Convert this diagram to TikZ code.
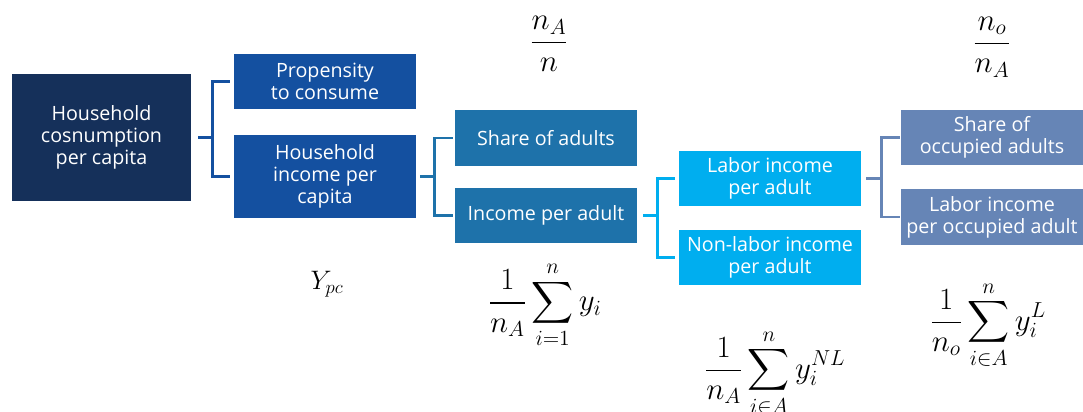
\RequirePackage{fix-cm}
\documentclass[tikz,border=0pt]{standalone}
\usepackage[no-math]{fontspec}
\setmainfont{Open Sans}
\usepackage{amsmath}
\usetikzlibrary{positioning, calc}

\definecolor{navyC}{HTML}{15305A}
\definecolor{blueC}{HTML}{1450A0}
\definecolor{tealC}{HTML}{1E72AA}
\definecolor{cyanC}{HTML}{00AEEF}
\definecolor{greyC}{HTML}{6685B6}

\begin{document}
\begin{tikzpicture}[
    x=0.025cm, y=-0.025cm,
    box/.style={rectangle, text=white, align=center, inner sep=2pt,
        minimum width=4.55cm, minimum height=1.375cm,
        font=\fontsize{14}{15.5}\selectfont},
    rootBox/.style={box, fill=navyC, minimum width=4.475cm, minimum height=3.175cm},
    boxA/.style={box, fill=blueC},
    boxB/.style={box, fill=tealC},
    boxC/.style={box, fill=cyanC},
    boxD/.style={box, fill=greyC},
    link/.style={line width=1.8pt},
    eqn/.style={inner sep=0pt, font=\fontsize{22}{26}\selectfont},
    eqnS/.style={inner sep=0pt, font=\fontsize{19}{22}\selectfont}
]
\useasboundingbox (0,0) rectangle (1083,412);

% tree of boxes
\node[rootBox] (hc) at (101.5,137.5) {Household\\cosnumption\\per capita};
\node[boxA] (pc) at (325,81.5) {Propensity\\to consume};
\node[boxA, minimum height=2.075cm] (hi) at (325,176.5) {Household\\income per\\capita};
\node[boxB] (sa) at (546,138) {Share of adults};
\node[boxB] (ia) at (546,215.5) {Income per adult};
\node[boxC] (li) at (770,178.5) {Labor income\\per adult};
\node[boxC] (nl) at (770,257.5) {Non-labor income\\per adult};
\node[boxD] (so) at (992,137.5) {Share of\\occupied adults};
\node[boxD] (lo) at (992,217) {Labor income\\per occupied adult};

% brackets
\coordinate (j1) at ([xshift=0.525cm]hc.east);
\draw[link, draw=blueC] ([xshift=0.175cm]hc.east) -- (j1);
\draw[link, draw=blueC] ([xshift=-0.1cm]pc.west) -| (j1) |- ([xshift=-0.1cm]hi.west);

\coordinate (j2) at ([xshift=0.45cm]hi.east);
\draw[link, draw=tealC] ([xshift=0.1cm]hi.east) -- (j2);
\draw[link, draw=tealC] ([xshift=-0.05cm]sa.west) -| (j2) |- ([xshift=-0.05cm]ia.west);

\coordinate (j3) at ([xshift=0.5cm]ia.east);
\draw[link, draw=cyanC] ([xshift=0.15cm]ia.east) -- (j3);
\draw[link, draw=cyanC] ([xshift=-0.1cm]li.west) -| (j3) |- ([xshift=-0.1cm]nl.west);

\coordinate (j4) at ([xshift=0.5cm]li.east);
\draw[link, draw=greyC] ([xshift=0.125cm]li.east) -- (j4);
\draw[link, draw=greyC] ([xshift=-0.03cm]so.west) -| (j4) |- ([xshift=-0.03cm]lo.west);

% formulas
\node[eqn] (fracA) at (549,44) {$\dfrac{n_A}{n}$};
\node[eqn] (fracO) at (992,47) {$\dfrac{n_o}{n_A}$};
\node[eqnS] (ypc) at (327,284) {$Y_{pc}$};
\node[eqn] (sumA) at (545,305) {$\displaystyle\frac{1}{n_A}\sum_{i=1}^{n} y_i$};
\node[eqn] (sumNL) at (775,373) {$\displaystyle\frac{1}{n_A}\sum_{i\in A}^{n} y_i^{NL}$};
\node[eqn] (sumL) at (988,325) {$\displaystyle\frac{1}{n_o}\sum_{i\in A}^{n} y_i^{L}$};
\end{tikzpicture}
\end{document}
